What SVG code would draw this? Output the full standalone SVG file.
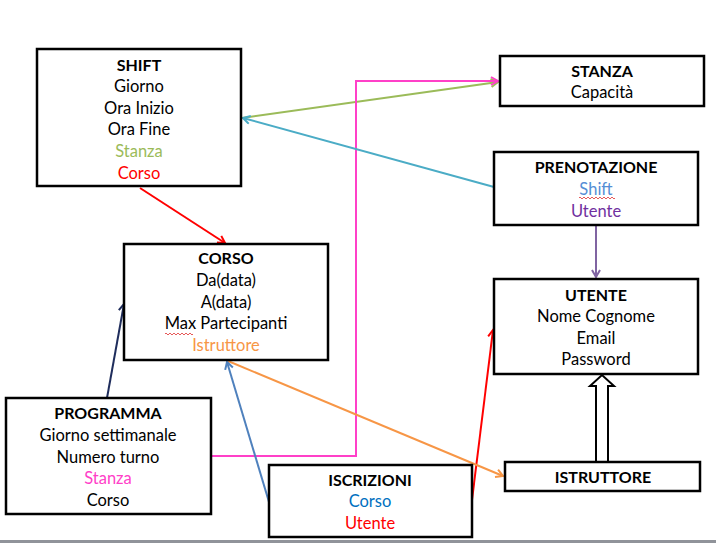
<svg xmlns="http://www.w3.org/2000/svg" width="716" height="543" viewBox="0 0 716 543">
<style>
.box{fill:#fff;stroke:#000;stroke-width:2.5}
text{font-family:Lato,"Liberation Sans",sans-serif;font-size:16.5px;text-anchor:middle;fill:#000}
.t{font-weight:bold;font-size:16px}
.c{fill:none;stroke-width:2}
.wavy{fill:none;stroke:#e03030;stroke-width:0.8}
</style>
<defs>
<marker id="aRed" markerWidth="10" markerHeight="10" refX="8" refY="5" orient="auto" markerUnits="userSpaceOnUse"><path d="M1,1 L8,5 L1,9" fill="none" stroke="#ff0000" stroke-width="2"/></marker>
<marker id="aGreen" markerWidth="10" markerHeight="10" refX="8" refY="5" orient="auto" markerUnits="userSpaceOnUse"><path d="M1,1 L8,5 L1,9" fill="none" stroke="#9bbb59" stroke-width="2"/></marker>
<marker id="aPink" markerWidth="10" markerHeight="10" refX="8" refY="5" orient="auto" markerUnits="userSpaceOnUse"><path d="M1,1 L8,5 L1,9" fill="none" stroke="#ff40c8" stroke-width="2"/></marker>
<marker id="aTeal" markerWidth="10" markerHeight="10" refX="8" refY="5" orient="auto" markerUnits="userSpaceOnUse"><path d="M1,1 L8,5 L1,9" fill="none" stroke="#4bacc6" stroke-width="2"/></marker>
<marker id="aPurple" markerWidth="10" markerHeight="10" refX="8" refY="5" orient="auto" markerUnits="userSpaceOnUse"><path d="M1,1 L8,5 L1,9" fill="none" stroke="#8064a2" stroke-width="2"/></marker>
<marker id="aOrange" markerWidth="10" markerHeight="10" refX="8" refY="5" orient="auto" markerUnits="userSpaceOnUse"><path d="M1,1 L8,5 L1,9" fill="none" stroke="#f79646" stroke-width="2"/></marker>
<marker id="aSteel" markerWidth="10" markerHeight="10" refX="8" refY="5" orient="auto" markerUnits="userSpaceOnUse"><path d="M1,1 L8,5 L1,9" fill="none" stroke="#4f81bd" stroke-width="2"/></marker>
<marker id="aNavy" markerWidth="10" markerHeight="10" refX="8" refY="5" orient="auto" markerUnits="userSpaceOnUse"><path d="M1,1 L8,5 L1,9" fill="none" stroke="#1f2d5c" stroke-width="2"/></marker>
</defs>
<rect x="0" y="0" width="716" height="543" fill="#fff"/>

<g id="connectors">
<path class="c" d="M140,188 L225,243" stroke="#ff0000" marker-end="url(#aRed)"/>
<path class="c" d="M242,118 L498,82" stroke="#9bbb59" marker-end="url(#aGreen)"/>
<path class="c" d="M211,456 L356,456 L356,81 L498,81" stroke="#ff40c8" marker-end="url(#aPink)"/>
<path class="c" d="M494,187 L243,118" stroke="#4bacc6" marker-end="url(#aTeal)"/>
<path class="c" d="M596,225 L596,277" stroke="#8064a2" marker-end="url(#aPurple)"/>
<path class="c" d="M472,500 L493,330" stroke="#ff0000" marker-end="url(#aRed)"/>
<path class="c" d="M228,361 L503,476" stroke="#f79646" marker-end="url(#aOrange)"/>
<path class="c" d="M269,502 L227,362" stroke="#4f81bd" marker-end="url(#aSteel)"/>
<path class="c" d="M107,398 L124,304" stroke="#1f2d5c" marker-end="url(#aNavy)"/>
<path d="M596,462 L596,386 L590,386 L602,375 L614,386 L608,386 L608,462" fill="#fff" stroke="#000" stroke-width="2"/>
</g>

<g id="shift">
<rect class="box" x="37" y="49" width="204" height="137"/>
<text class="t" x="139" y="71">SHIFT</text>
<text x="139" y="92">Giorno</text>
<text x="139" y="114">Ora Inizio</text>
<text x="139" y="135">Ora Fine</text>
<text x="139" y="157" style="fill:#9bbb59">Stanza</text>
<text x="139" y="179" style="fill:#ff0000">Corso</text>
</g>

<g id="corso">
<rect class="box" x="124" y="244" width="204" height="116"/>
<text class="t" x="226" y="264">CORSO</text>
<text x="226" y="286">Da(data)</text>
<text x="226" y="308">A(data)</text>
<text x="226" y="329">Max Partecipanti</text>
<path class="wavy" d="M165,334 q1,-2 2,0 t2,0 t2,0 t2,0 t2,0 t2,0 t2,0 t2,0 t2,0 t2,0 t2,0 t2,0 t2,0 t2,0"/>
<text x="226" y="351" style="fill:#f79646">Istruttore</text>
</g>

<g id="stanza">
<rect class="box" x="500" y="56" width="204" height="50"/>
<text class="t" x="602" y="77">STANZA</text>
<text x="602" y="98">Capacità</text>
</g>

<g id="prenotazione">
<rect class="box" x="494" y="152" width="204" height="73"/>
<text class="t" x="596" y="173">PRENOTAZIONE</text>
<text x="596" y="195" style="fill:#558ed5">Shift</text>
<path class="wavy" d="M579,198 q1,-2 2,0 t2,0 t2,0 t2,0 t2,0 t2,0 t2,0 t2,0 t2,0 t2,0 t2,0 t2,0 t2,0 t2,0 t2,0 t2,0 t2,0 t2,0"/>
<text x="596" y="217" style="fill:#7030a0">Utente</text>
</g>

<g id="utente">
<rect class="box" x="494" y="279" width="204" height="95"/>
<text class="t" x="596" y="301">UTENTE</text>
<text x="596" y="322">Nome Cognome</text>
<text x="596" y="344">Email</text>
<text x="596" y="365">Password</text>
</g>

<g id="istruttore">
<rect class="box" x="505" y="462" width="195" height="29"/>
<text class="t" x="603" y="483">ISTRUTTORE</text>
</g>

<g id="programma">
<rect class="box" x="6" y="398" width="205" height="116"/>
<text class="t" x="108" y="419">PROGRAMMA</text>
<text x="108" y="441">Giorno settimanale</text>
<text x="108" y="463">Numero turno</text>
<text x="108" y="484" style="fill:#ff40c8">Stanza</text>
<text x="108" y="506">Corso</text>
</g>

<g id="iscrizioni">
<rect class="box" x="269" y="465" width="203" height="72"/>
<text class="t" x="370" y="486">ISCRIZIONI</text>
<text x="370" y="507" style="fill:#0070c0">Corso</text>
<text x="370" y="529" style="fill:#ff0000">Utente</text>
</g>

<rect x="0" y="540" width="716" height="3" fill="#90939a"/>
</svg>
